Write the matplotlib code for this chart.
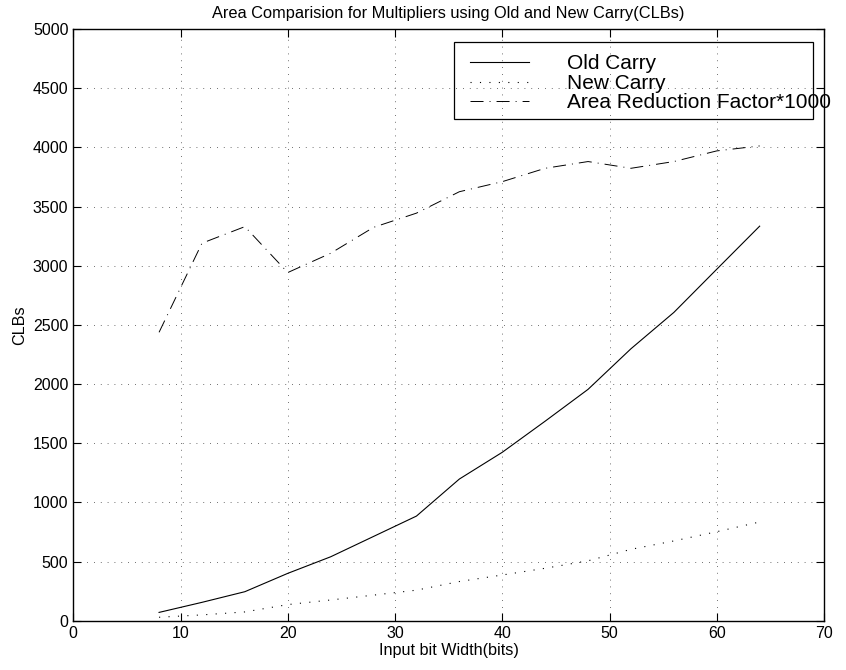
import numpy as np
import matplotlib.pyplot as plt
from matplotlib.patches import Rectangle

plt.rcParams['font.family'] = ['Liberation Sans', 'DejaVu Sans']

bits = [8, 12, 16, 20, 24, 28, 32, 36, 40, 44, 48, 52, 56, 60, 64]
old_carry = [70, 155, 245, 400, 540, 712, 884, 1197, 1423, 1686, 1955, 2298, 2605, 2970, 3334]
new_carry = [29, 49, 74, 136, 175, 216, 258, 331, 386, 443, 506, 603, 674, 752, 834]
area_factor = [2437, 3190, 3330, 2942, 3105, 3324, 3444, 3625, 3710, 3823, 3880, 3823, 3880, 3970, 4012]

fig = plt.figure(figsize=(8.46, 6.70), dpi=100)
ax = fig.add_axes([0.0866, 0.0736, 0.8874, 0.8831])

ax.plot(bits, old_carry, color='black', lw=0.8, label='Old Carry')
ax.plot(bits, new_carry, color='black', lw=0.8, linestyle=(0, (1, 7.5)), label='New Carry')
ax.plot(bits, area_factor, color='black', lw=0.7, linestyle=(0, (13.4, 6.2, 1, 6.2)),
        label='Area Reduction Factor*1000')

ax.set_xlim(0, 70)
ax.set_ylim(0, 5000)
ax.set_xticks(np.arange(0, 71, 10))
ax.set_yticks(np.arange(0, 5001, 500))
ax.grid(True, color='0.25', lw=0.6, linestyle=(0, (1, 7.2)))
ax.tick_params(direction='in', length=6, width=0.8, top=True, right=True, labelsize=11.5)
for s in ax.spines.values():
    s.set_linewidth(1.0)

ax.set_title('Area Comparision for Multipliers using Old and New Carry(CLBs)', fontsize=11.8, pad=8)
ax.set_xlabel('Input bit Width(bits)', fontsize=11.6, labelpad=2)
ax.set_ylabel('CLBs', fontsize=11.6, labelpad=4)

# legend box is narrower than its text, as in the original
fig.add_artist(Rectangle((454 / 846, 1 - 119 / 670), (813 - 454) / 846, (119 - 41.7) / 670,
                         transform=fig.transFigure, fill=False, edgecolor='black', lw=0.9,
                         zorder=5))
leg = ax.legend(loc='upper left', bbox_to_anchor=(457 / 846, 1 - 41.7 / 670),
                bbox_transform=fig.transFigure, fontsize=15, frameon=False,
                handlelength=2.85, handletextpad=1.85, labelspacing=0.03,
                borderpad=0.6, borderaxespad=0)

fig.savefig('out.png', dpi=100)
